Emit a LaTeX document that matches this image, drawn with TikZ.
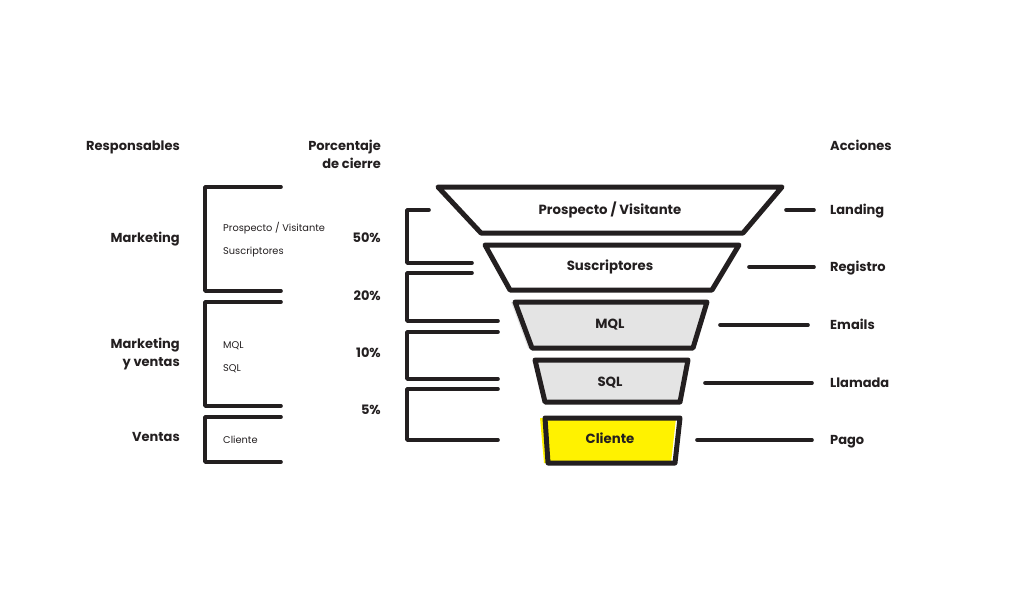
\documentclass[tikz,border=0pt]{standalone}
\usepackage{fontspec}
\setmainfont{Poppins}
\begin{document}
\definecolor{ink}{HTML}{231F20}
\definecolor{stagegray}{HTML}{E4E4E4}
\definecolor{stageyellow}{HTML}{FFF200}
\begin{tikzpicture}[x=1pt,y=-1pt,
  stageline/.style={draw=ink,line width=5pt,line join=round,line cap=round},
  brace/.style={draw=ink,line width=3.6pt,line join=round,line cap=round},
  tick/.style={draw=ink,line width=3.6pt,line cap=round},
  stagetext/.style={font=\fontsize{13.3}{14}\selectfont\bfseries,text=ink,text height=9.5pt,text depth=0pt,inner sep=0pt},
  headtext/.style={font=\fontsize{13}{18}\selectfont\bfseries,text=ink,align=right,inner sep=0pt},
  acttext/.style={font=\fontsize{13}{14}\selectfont\bfseries,text=ink,anchor=west,inner sep=0pt,text height=9.5pt,text depth=0pt},
  smalltext/.style={font=\fontsize{9.8}{11}\selectfont,text=ink,anchor=west,inner sep=0pt,text height=7pt,text depth=0pt}]
\useasboundingbox (0,0) rectangle (1009,613);
\fill[white] (0,0) rectangle (1009,613);

% funnel stages
\draw[stageline] (438,187) -- (782,187) -- (743,233) -- (481,233) -- cycle;
\draw[stageline] (485,245) -- (739,245) -- (712,290) -- (510,290) -- cycle;
\fill[stagegray] (511,302) -- (703,302) -- (689,348) -- (528,348) -- cycle;
\draw[stageline,fill=stagegray] (515,302) -- (707,302) -- (693,348) -- (532,348) -- cycle;
\fill[stagegray] (535,360) -- (688,360) -- (680,402) -- (545,402) -- cycle;
\draw[stageline] (535,360) -- (688,360) -- (680,402) -- (545,402) -- cycle;
\fill[stageyellow] (540,418) -- (676,418) -- (671,463) -- (544,463) -- cycle;
\draw[stageline] (545,418) -- (680,418) -- (675,463) -- (548,463) -- cycle;

\node[stagetext] (s1) at (610,210) {Prospecto / Visitante};
\node[stagetext] (s2) at (610,266) {Suscriptores};
\node[stagetext] (s3) at (610,324) {MQL};
\node[stagetext] (s4) at (610,382) {SQL};
\node[stagetext] (s5) at (610,439) {Cliente};

% column headings
\node[headtext,anchor=base east] (hresp) at (180,150) {Responsables};
\node[headtext,anchor=base east] (hpct) at (381,168) {Porcentaje\\de cierre};
\node[headtext,anchor=base west] (hact) at (830,150) {Acciones};

% owners
\node[headtext,anchor=base east] (r1) at (180,242) {Marketing};
\node[headtext,anchor=base east] (r2) at (180,366) {Marketing\\y ventas};
\node[headtext,anchor=base east] (r3) at (180,441) {Ventas};

\draw[brace] (281,187) -- (205,187) -- (205,291) -- (281,291);
\draw[brace] (281,302) -- (205,302) -- (205,406) -- (281,406);
\draw[brace] (281,417) -- (205,417) -- (205,462) -- (281,462);
\node[smalltext] (l1) at (223,228) {Prospecto / Visitante};
\node[smalltext] (l2) at (223,251) {Suscriptores};
\node[smalltext] (l3) at (223,345) {MQL};
\node[smalltext] (l4) at (223,368) {SQL};
\node[smalltext] (l5) at (223,440) {Cliente};

% closing rates
\node[headtext,anchor=base east] (p1) at (381,242) {50\%};
\node[headtext,anchor=base east] (p2) at (381,300) {20\%};
\node[headtext,anchor=base east] (p3) at (381,357) {10\%};
\node[headtext,anchor=base east] (p4) at (381,414) {5\%};

\draw[brace] (429,210) -- (407,210) -- (407,263) -- (472,263);
\draw[brace] (472,273) -- (407,273) -- (407,321) -- (498,321);
\draw[brace] (498,332) -- (407,332) -- (407,379) -- (498,379);
\draw[brace] (498,389) -- (407,389) -- (407,440) -- (498,440);

% actions
\node[acttext] (a1) at (830,210) {Landing};
\node[acttext] (a2) at (830,267) {Registro};
\node[acttext] (a3) at (830,325) {Emails};
\node[acttext] (a4) at (830,383) {Llamada};
\node[acttext] (a5) at (830,440) {Pago};
\coordinate (t1) at (786,210);
\coordinate (t2) at (749,267);
\coordinate (t3) at (720,325);
\coordinate (t4) at (705,383);
\coordinate (t5) at (697,440);
\coordinate (e1) at (814,210);
\coordinate (e2) at (814,267);
\coordinate (e3) at (808,325);
\coordinate (e4) at (812,383);
\coordinate (e5) at (812,440);
\draw[tick] (t1) -- (e1);
\draw[tick] (t2) -- (e2);
\draw[tick] (t3) -- (e3);
\draw[tick] (t4) -- (e4);
\draw[tick] (t5) -- (e5);
\end{tikzpicture}
\end{document}
